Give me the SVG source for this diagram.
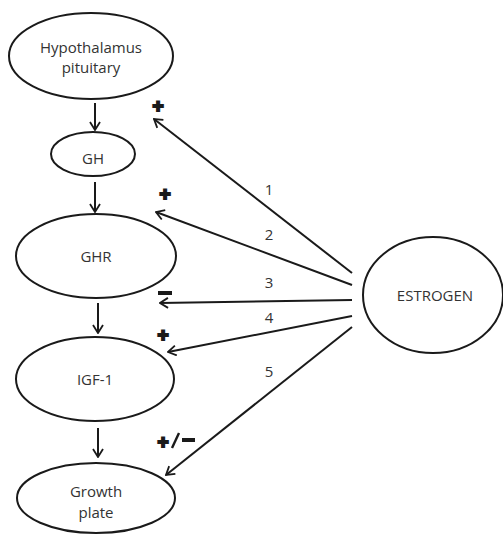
<svg xmlns="http://www.w3.org/2000/svg" width="503" height="534" viewBox="0 0 503 534">
<defs>
<style>
.node{fill:#fff;stroke:#1a1a1a;stroke-width:2}
.lbl{font-family:"Open Sans","Liberation Sans",sans-serif;font-size:15px;fill:#333;text-anchor:middle}
.num{font-family:"Open Sans","Liberation Sans",sans-serif;font-size:15px;fill:#333;text-anchor:middle}
.sign{font-family:"Liberation Sans",sans-serif;font-weight:bold;font-size:19px;fill:#1a1a1a;stroke:#1a1a1a;stroke-width:2;text-anchor:middle}
.edge{stroke:#1a1a1a;stroke-width:2;fill:none;marker-end:url(#arr)}
</style>
<marker id="arr" viewBox="0 0 10 12" refX="9" refY="6" markerWidth="10" markerHeight="12" markerUnits="userSpaceOnUse" orient="auto">
<path d="M1,1 L9,6 L1,11" fill="none" stroke="#1a1a1a" stroke-width="1.8"/>
</marker>
</defs>
<rect width="503" height="534" fill="#fff"/>
<g id="connectors">
<line class="edge" x1="95" y1="103" x2="95" y2="130"/>
<line class="edge" x1="95" y1="182" x2="95" y2="212"/>
<line class="edge" x1="98" y1="303" x2="98" y2="333"/>
<line class="edge" x1="98" y1="428" x2="98" y2="457"/>
<line class="edge" x1="352" y1="273" x2="154" y2="119"/>
<line class="edge" x1="352" y1="285" x2="156" y2="212"/>
<line class="edge" x1="352" y1="300" x2="160" y2="303"/>
<line class="edge" x1="352" y1="316" x2="168" y2="352"/>
<line class="edge" x1="352" y1="327" x2="166" y2="475"/>
<text class="num" x="269" y="195">1</text>
<text class="num" x="269" y="240">2</text>
<text class="num" x="269" y="288">3</text>
<text class="num" x="269" y="323">4</text>
<text class="num" x="269" y="377">5</text>
<text class="sign" x="158" y="112">+</text>
<text class="sign" x="165" y="200">+</text>
<rect x="158" y="291" width="14" height="4" fill="#1a1a1a"/>
<text class="sign" x="163" y="341">+</text>
<text class="sign" x="163" y="448">+</text>
<line x1="172" y1="448" x2="179" y2="433" stroke="#1a1a1a" stroke-width="2.4"/>
<rect x="182" y="438" width="13" height="4" fill="#1a1a1a"/>
</g>
<g id="hypothalamus">
<ellipse class="node" cx="91" cy="56" rx="82" ry="43"/>
<text class="lbl" x="91" y="53">Hypothalamus</text>
<text class="lbl" x="91" y="73">pituitary</text>
</g>
<g id="gh">
<ellipse class="node" cx="93" cy="154" rx="42" ry="22"/>
<text class="lbl" x="93" y="164">GH</text>
</g>
<g id="ghr">
<ellipse class="node" cx="96" cy="256" rx="80" ry="42"/>
<text class="lbl" x="96" y="262">GHR</text>
</g>
<g id="igf1">
<ellipse class="node" cx="95" cy="379" rx="79" ry="42"/>
<text class="lbl" x="95" y="385">IGF-1</text>
</g>
<g id="growthplate">
<ellipse class="node" cx="96" cy="498" rx="79" ry="35"/>
<text class="lbl" x="96" y="497">Growth</text>
<text class="lbl" x="96" y="518">plate</text>
</g>
<g id="estrogen">
<ellipse class="node" cx="433" cy="295" rx="70" ry="58"/>
<text class="lbl" x="435" y="301">ESTROGEN</text>
</g>
</svg>
